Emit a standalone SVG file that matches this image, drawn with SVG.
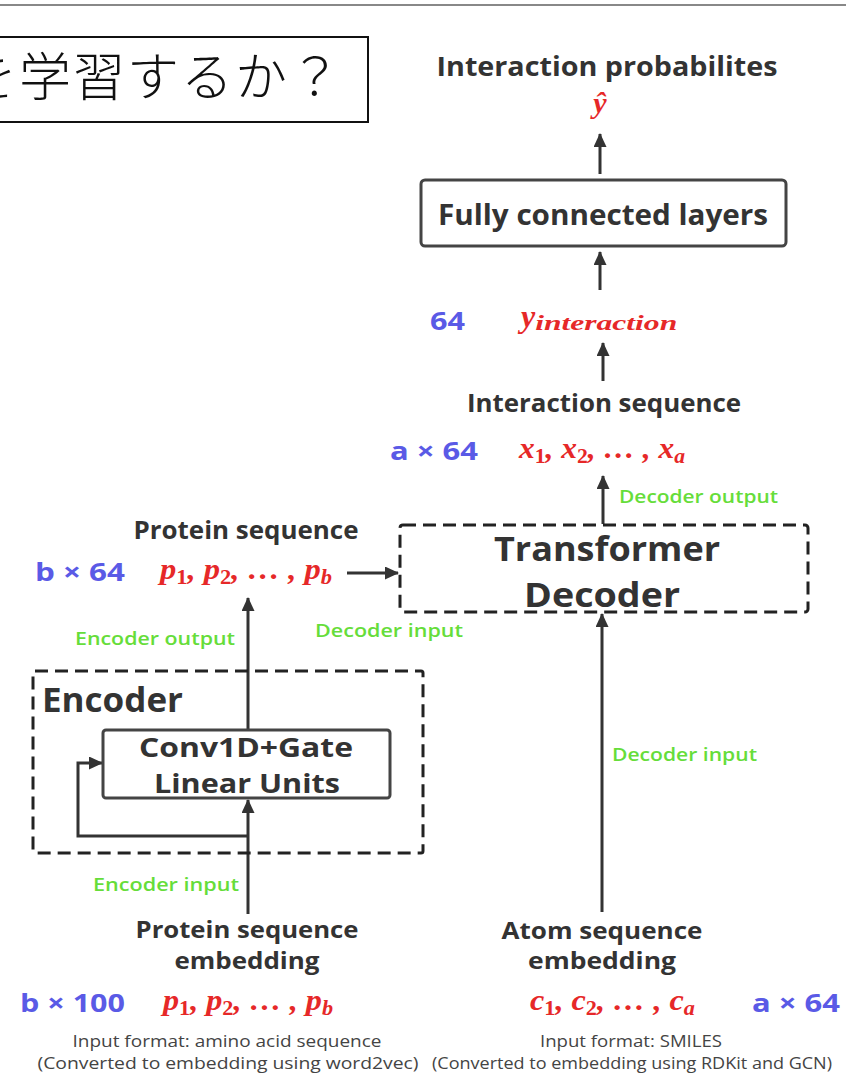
<svg xmlns="http://www.w3.org/2000/svg" width="846" height="1088" viewBox="0 0 846 1088">
<defs>
<style>
.b{font-family:"Open Sans","Liberation Sans",sans-serif;font-weight:700;fill:#333;}
.bl{font-family:"Open Sans","Liberation Sans",sans-serif;font-weight:700;fill:#5a5ae6;}
.g{font-family:"Open Sans","Liberation Sans",sans-serif;font-weight:600;fill:#66dd3a;font-size:18px;}
.s{font-family:"Open Sans","Liberation Sans",sans-serif;fill:#444;font-size:16px;}
.m{font-family:"Liberation Serif","DejaVu Serif",serif;font-weight:700;font-style:italic;fill:#e62828;}
.sub{font-style:normal;}
.ln{stroke:#333;stroke-width:3;fill:none;}
.box{fill:#fff;stroke:#444;stroke-width:3;}
.dash{fill:none;stroke:#222;stroke-width:3;stroke-dasharray:13 7;}
</style>
<marker id="ah" markerUnits="userSpaceOnUse" markerWidth="14" markerHeight="13" refX="13" refY="6.5" orient="auto">
<path d="M0,0 L14,6.5 L0,13 z" fill="#333"/>
</marker>
</defs>
<rect width="846" height="1088" fill="#fff"/>
<line x1="0" y1="5" x2="846" y2="5" stroke="#888" stroke-width="2"/>

<g id="question">
<rect x="-10" y="37" width="378" height="85" fill="#fff" stroke="#111" stroke-width="2"/>
<text x="-35" y="96" font-family="Noto Sans CJK JP,sans-serif" font-weight="300" font-size="52" letter-spacing="2" fill="#111">を学習するか？</text>
</g>

<g id="connectors">
<line class="ln" x1="600" y1="174" x2="600" y2="134" marker-end="url(#ah)"/>
<line class="ln" x1="600" y1="290" x2="600" y2="252" marker-end="url(#ah)"/>
<line class="ln" x1="603" y1="381" x2="603" y2="343" marker-end="url(#ah)"/>
<line class="ln" x1="603" y1="524" x2="603" y2="476" marker-end="url(#ah)"/>
<line class="ln" x1="347" y1="573" x2="398" y2="573" marker-end="url(#ah)"/>
<line class="ln" x1="248" y1="729" x2="248" y2="598" marker-end="url(#ah)"/>
<line class="ln" x1="248" y1="914" x2="248" y2="800" marker-end="url(#ah)"/>
<polyline class="ln" points="248,836 78,836 78,763 102,763" marker-end="url(#ah)"/>
<line class="ln" x1="602" y1="912" x2="602" y2="614" marker-end="url(#ah)"/>
</g>

<g id="output">
<text class="b" x="607" y="76" font-size="26" text-anchor="middle" textLength="341" lengthAdjust="spacingAndGlyphs">Interaction probabilites</text>
<text class="m" x="600" y="113" font-size="30" font-weight="400" text-anchor="middle">ŷ</text>
</g>

<g id="fc">
<rect class="box" x="421" y="180" width="365" height="66" rx="4"/>
<text class="b" x="603" y="225" font-size="28" text-anchor="middle" textLength="330" lengthAdjust="spacingAndGlyphs">Fully connected layers</text>
</g>

<g id="yint">
<text class="bl" x="430" y="330" font-size="25" textLength="35" lengthAdjust="spacingAndGlyphs">64</text>
<text class="m" x="521" y="327" font-size="32">y<tspan font-size="22" dy="3" textLength="142" lengthAdjust="spacingAndGlyphs">interaction</tspan></text>
</g>

<g id="interseq">
<text class="b" x="604" y="412" font-size="25" text-anchor="middle" textLength="274" lengthAdjust="spacingAndGlyphs">Interaction sequence</text>
<text class="bl" x="390" y="460" font-size="25" textLength="88" lengthAdjust="spacingAndGlyphs">a × 64</text>
<text class="m" x="519" y="458" font-size="29" textLength="166" lengthAdjust="spacingAndGlyphs">x<tspan class="sub" font-size="20" dy="5">1</tspan><tspan dy="-5">, x</tspan><tspan class="sub" font-size="20" dy="5">2</tspan><tspan dy="-5">, … , x</tspan><tspan font-size="20" dy="5">a</tspan></text>
<text class="g" x="619" y="503" textLength="159" lengthAdjust="spacingAndGlyphs">Decoder output</text>
</g>

<g id="decoder">
<rect class="dash" x="400" y="525" width="408" height="87" rx="3"/>
<text class="b" x="607" y="561" font-size="34" text-anchor="middle" textLength="226" lengthAdjust="spacingAndGlyphs">Transformer</text>
<text class="b" x="602" y="607" font-size="34" text-anchor="middle" textLength="156" lengthAdjust="spacingAndGlyphs">Decoder</text>
<text class="g" x="315" y="637" textLength="148" lengthAdjust="spacingAndGlyphs">Decoder input</text>
</g>

<g id="protseq">
<text class="b" x="246" y="539" font-size="25" text-anchor="middle" textLength="225" lengthAdjust="spacingAndGlyphs">Protein sequence</text>
<text class="bl" x="35" y="581" font-size="25" textLength="90" lengthAdjust="spacingAndGlyphs">b × 64</text>
<text class="m" x="160" y="579" font-size="29" textLength="172" lengthAdjust="spacingAndGlyphs">p<tspan class="sub" font-size="20" dy="5">1</tspan><tspan dy="-5">, p</tspan><tspan class="sub" font-size="20" dy="5">2</tspan><tspan dy="-5">, … , p</tspan><tspan font-size="20" dy="5">b</tspan></text>
<text class="g" x="75" y="645" textLength="160" lengthAdjust="spacingAndGlyphs">Encoder output</text>
</g>

<g id="encoder">
<rect class="dash" x="33" y="671" width="390" height="182" rx="2"/>
<text class="b" x="42" y="712" font-size="34" textLength="141" lengthAdjust="spacingAndGlyphs">Encoder</text>
</g>

<g id="conv">
<rect class="box" x="103" y="730" width="287" height="68" rx="3"/>
<text class="b" x="246" y="757" font-size="27" text-anchor="middle" textLength="214" lengthAdjust="spacingAndGlyphs">Conv1D+Gate</text>
<text class="b" x="247" y="793" font-size="27" text-anchor="middle" textLength="186" lengthAdjust="spacingAndGlyphs">Linear Units</text>
<text class="g" x="93" y="891" textLength="146" lengthAdjust="spacingAndGlyphs">Encoder input</text>
<text class="g" x="612" y="761" textLength="145" lengthAdjust="spacingAndGlyphs">Decoder input</text>
</g>

<g id="protemb">
<text class="b" x="247" y="938" font-size="24" text-anchor="middle" textLength="223" lengthAdjust="spacingAndGlyphs">Protein sequence</text>
<text class="b" x="247" y="969" font-size="24" text-anchor="middle" textLength="145" lengthAdjust="spacingAndGlyphs">embedding</text>
<text class="bl" x="20" y="1012" font-size="25" textLength="105" lengthAdjust="spacingAndGlyphs">b × 100</text>
<text class="m" x="163" y="1010" font-size="29" textLength="170" lengthAdjust="spacingAndGlyphs">p<tspan class="sub" font-size="20" dy="5">1</tspan><tspan dy="-5">, p</tspan><tspan class="sub" font-size="20" dy="5">2</tspan><tspan dy="-5">, … , p</tspan><tspan font-size="20" dy="5">b</tspan></text>
<text class="s" x="227" y="1047" text-anchor="middle" textLength="309" lengthAdjust="spacingAndGlyphs">Input format: amino acid sequence</text>
<text class="s" x="228" y="1069" text-anchor="middle" textLength="381" lengthAdjust="spacingAndGlyphs">(Converted to embedding using word2vec)</text>
</g>

<g id="atomemb">
<text class="b" x="602" y="939" font-size="24" text-anchor="middle" textLength="201" lengthAdjust="spacingAndGlyphs">Atom sequence</text>
<text class="b" x="602" y="969" font-size="24" text-anchor="middle" textLength="148" lengthAdjust="spacingAndGlyphs">embedding</text>
<text class="m" x="530" y="1010" font-size="29" textLength="165" lengthAdjust="spacingAndGlyphs">c<tspan class="sub" font-size="20" dy="5">1</tspan><tspan dy="-5">, c</tspan><tspan class="sub" font-size="20" dy="5">2</tspan><tspan dy="-5">, … , c</tspan><tspan font-size="20" dy="5">a</tspan></text>
<text class="bl" x="752" y="1012" font-size="25" textLength="88" lengthAdjust="spacingAndGlyphs">a × 64</text>
<text class="s" x="631" y="1047" text-anchor="middle" textLength="182" lengthAdjust="spacingAndGlyphs">Input format: SMILES</text>
<text class="s" x="632" y="1069" text-anchor="middle" textLength="400" lengthAdjust="spacingAndGlyphs">(Converted to embedding using RDKit and GCN)</text>
</g>
</svg>
